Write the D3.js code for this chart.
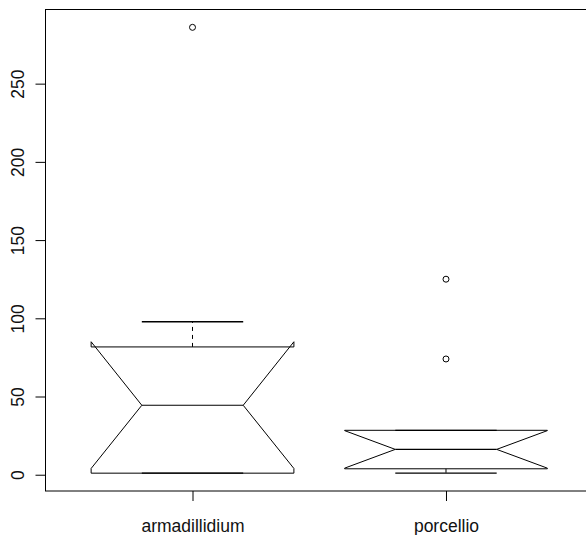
<!DOCTYPE html>
<html>
<head>
<meta charset="utf-8">
<script src="https://cdn.jsdelivr.net/npm/d3@7"></script>
<style>
  body { margin: 0; background: #fff; }
  svg { display: block; font-family: "Liberation Sans", Arial, sans-serif; }
</style>
</head>
<body>
<svg id="chart" width="586" height="535"></svg>
<script>
// boxplot stats
const groups = ["armadillidium", "porcellio"];
const whiskerLow = [1, 1];
const lowerHinge = [1, 3.8];
const medians = [44.4, 16.2];
const upperHinge = [81.7, 28.4];
const whiskerHigh = [97.8, 28.4];
const notchLow = [4, 4.2];
const notchHigh = [85, 28.2];
const outliers = [[286], [125, 74]];
const yTicks = [0, 50, 100, 150, 200, 250];

const svg = d3.select("#chart");

// plot region (R style: xlim 0.5..n+0.5, 4% padding)
const plot = { left: 45.5, top: 9.5, right: 593, bottom: 491 };

const x = d3.scaleLinear()
    .domain([0.42, groups.length + 0.58])
    .range([plot.left, plot.right]);

const allVals = whiskerLow.concat(whiskerHigh, outliers.flat());
const yMin = d3.min(allVals), yMax = d3.max(allVals);
const pad = (yMax - yMin) * 0.04;
const y = d3.scaleLinear()
    .domain([yMin - pad, yMax + pad])
    .range([plot.bottom, plot.top]);

const boxHalf = 0.4;   // boxwex 0.8
const notchHalf = 0.2; // notch.frac 0.5
const capHalf = 0.2;

const g = svg.append("g").attr("fill", "none").attr("stroke", "#000").attr("stroke-width", 1);

groups.forEach((name, i) => {
    const c = i + 1;
    const xl = c - boxHalf, xr = c + boxHalf;
    const ml = c - notchHalf, mr = c + notchHalf;

    // dashed whiskers
    g.append("line")
        .attr("x1", x(c)).attr("x2", x(c))
        .attr("y1", y(upperHinge[i])).attr("y2", y(whiskerHigh[i]))
        .attr("stroke-dasharray", "4,4");
    g.append("line")
        .attr("x1", x(c)).attr("x2", x(c))
        .attr("y1", y(lowerHinge[i])).attr("y2", y(whiskerLow[i]))
        .attr("stroke-dasharray", "4,4");

    // staples
    [whiskerLow[i], whiskerHigh[i]].forEach(v => {
        g.append("line")
            .attr("x1", x(c - capHalf)).attr("x2", x(c + capHalf))
            .attr("y1", y(v)).attr("y2", y(v))
            .attr("stroke-width", 1.3);
    });

    // notched box
    const pts = [
        [xl, lowerHinge[i]], [xl, notchLow[i]], [ml, medians[i]],
        [xl, notchHigh[i]], [xl, upperHinge[i]], [xr, upperHinge[i]],
        [xr, notchHigh[i]], [mr, medians[i]], [xr, notchLow[i]],
        [xr, lowerHinge[i]]
    ];
    g.append("path")
        .attr("d", d3.line().x(d => x(d[0])).y(d => y(d[1]))(pts) + "Z")
        .attr("stroke-linejoin", "round");

    // median
    g.append("line")
        .attr("x1", x(ml)).attr("x2", x(mr))
        .attr("y1", y(medians[i])).attr("y2", y(medians[i]))
        .attr("stroke-width", 1.2);

    // outliers
    g.selectAll(null)
        .data(outliers[i])
        .enter()
        .append("circle")
        .attr("cx", x(c))
        .attr("cy", d => y(d))
        .attr("r", 3);
});

// frame
svg.append("rect")
    .attr("x", plot.left).attr("y", plot.top)
    .attr("width", plot.right - plot.left)
    .attr("height", plot.bottom - plot.top)
    .attr("fill", "none").attr("stroke", "#000");

// y axis
const yAxis = d3.axisLeft(y).tickValues(yTicks).tickSize(10).tickPadding(0);
const yAxisGroup = svg.append("g")
    .attr("transform", `translate(${plot.left},0)`)
    .call(yAxis);
yAxisGroup.select(".domain").remove();
yAxisGroup.selectAll(".tick line").attr("stroke", "#000");
yAxisGroup.selectAll(".tick text")
    .attr("x", null).attr("dy", null)
    .attr("transform", "translate(-21.5,0) rotate(-90)")
    .style("text-anchor", "middle")
    .style("font-size", "17.5px")
    .attr("fill", "#111");

// x axis
const xAxis = d3.axisBottom(x)
    .tickValues(groups.map((d, i) => i + 1))
    .tickFormat(d => groups[d - 1])
    .tickSize(10).tickPadding(0);
const xAxisGroup = svg.append("g")
    .attr("transform", `translate(0,${plot.bottom})`)
    .call(xAxis);
xAxisGroup.select(".domain").remove();
xAxisGroup.selectAll(".tick line").attr("stroke", "#000");
xAxisGroup.selectAll(".tick text")
    .attr("y", 40.5).attr("dy", null)
    .style("font-size", "17.5px")
    .attr("fill", "#111");
</script>
</body>
</html>
